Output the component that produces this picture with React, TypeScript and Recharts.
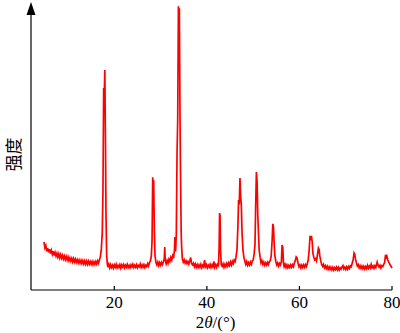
import { Label, Line, LineChart, XAxis, YAxis } from "recharts";

// 2θ (deg), intensity (a.u., 0–100 scale)
const lowAngle: [number, number][] = [
  [4.8, 16.9], [5.0, 14.8], [5.2, 15.6], [5.4, 13.6], [5.6, 14.7], [5.8, 13.2], [6.0, 14.3],
  [6.2, 12.8], [6.4, 13.9], [6.6, 12.5], [6.8, 13.6], [7.0, 12.1], [7.2, 13.2], [7.4, 11.9],
  [7.6, 12.9], [7.8, 11.6], [8.0, 12.7], [8.2, 11.3], [8.4, 12.4], [8.6, 11.2], [8.8, 12.2],
  [9.0, 10.9], [9.2, 11.9], [9.4, 10.7], [9.6, 11.8], [9.8, 10.5], [10.0, 11.6], [10.2, 10.3],
  [10.4, 11.3], [10.6, 10.2], [10.8, 11.1], [11.0, 9.9], [11.2, 11.0], [11.4, 9.8], [11.6, 10.8],
  [11.8, 9.7], [12.0, 10.6], [12.2, 9.5], [12.4, 10.5], [12.6, 9.4], [12.8, 10.4], [13.0, 9.3],
  [13.2, 10.3], [13.4, 9.2], [13.6, 10.2], [13.8, 9.1], [14.0, 10.1], [14.2, 9.0], [14.4, 10.1],
  [14.6, 9.1], [14.8, 10.0], [15.0, 9.0], [15.2, 10.0], [15.4, 8.9], [15.6, 9.9], [15.8, 9.0],
  [16.0, 10.0], [16.2, 9.1], [16.4, 10.2], [16.6, 9.4], [16.8, 10.6],
];

const peaks18to35: [number, number][] = [
  [17.0, 11.8], [17.2, 14.5], [17.4, 20], [17.55, 35], [17.7, 70.9], [17.8, 66], [17.95, 77.2],
  [18.1, 50], [18.2, 27], [18.35, 12], [18.5, 9.0],
  [18.6, 8.0], [18.8, 9.0], [19.0, 7.8], [19.2, 8.9], [19.4, 7.9], [19.6, 8.7], [19.8, 7.7],
  [20.0, 8.8], [20.2, 8.0], [20.4, 9.0], [20.6, 7.8], [20.8, 8.6], [21.0, 7.9], [21.2, 8.9],
  [21.4, 7.7], [21.6, 8.8], [21.8, 8.1], [22.0, 8.9], [22.2, 7.8], [22.4, 8.7], [22.6, 8.0],
  [22.8, 9.0], [23.0, 7.9], [23.2, 8.6], [23.4, 7.8], [23.6, 8.8], [23.8, 8.1], [24.0, 9.0],
  [24.2, 7.9], [24.4, 8.7], [24.6, 8.0], [24.8, 8.9], [25.0, 7.8], [25.2, 8.6], [25.4, 8.1],
  [25.6, 9.1], [25.8, 7.9], [26.0, 8.8], [26.2, 8.0], [26.4, 8.9], [26.6, 7.9], [26.8, 8.7],
  [27.0, 8.2], [27.2, 9.2], [27.4, 8.4], [27.6, 9.6], [27.8, 10.2],
  [28.0, 12.0], [28.15, 17], [28.3, 39.6], [28.4, 30], [28.5, 38.6], [28.65, 21], [28.8, 12],
  [29.0, 9.6], [29.2, 8.8], [29.4, 9.8], [29.6, 8.6], [29.8, 9.6], [30.0, 8.7], [30.2, 9.7],
  [30.4, 8.9], [30.6, 9.9], [30.8, 11], [30.9, 15.1], [31.0, 10.5], [31.2, 9.2], [31.4, 10.4],
  [31.6, 9.4], [31.8, 10.8], [32.0, 10.0], [32.2, 11.4], [32.4, 10.5], [32.6, 12.0], [32.8, 11.2],
  [33.0, 14.0], [33.1, 18.6], [33.25, 13.5], [33.4, 20], [33.55, 47.4], [33.7, 60],
  [33.85, 99.6], [33.95, 90], [34.05, 98.9], [34.2, 60], [34.3, 42.1], [34.45, 20],
  [34.55, 15.1], [34.7, 11.0], [34.9, 9.8],
];

const midAngle: [number, number][] = [
  [35.1, 10.6], [35.3, 9.4], [35.5, 10.2], [35.7, 9.3], [35.9, 10.0], [36.1, 9.1], [36.3, 10.2],
  [36.5, 11.4], [36.7, 9.3], [36.9, 8.8], [37.1, 9.4], [37.3, 8.2], [37.5, 9.1], [37.7, 8.0],
  [37.9, 8.9], [38.1, 7.9], [38.3, 8.8], [38.5, 8.0], [38.7, 9.0], [38.9, 7.8], [39.1, 8.7],
  [39.3, 8.1], [39.5, 10.5], [39.7, 8.2], [39.9, 8.9], [40.1, 7.8], [40.3, 8.7], [40.5, 8.0],
  [40.7, 9.0], [40.9, 7.9], [41.1, 8.8], [41.3, 8.1], [41.5, 10.0], [41.7, 8.0], [41.9, 8.9],
  [42.1, 8.0], [42.3, 9.0], [42.5, 8.6], [42.65, 15], [42.75, 27], [42.85, 26], [42.95, 14],
  [43.1, 9.0], [43.3, 8.3], [43.5, 9.2], [43.7, 8.0], [43.9, 9.0], [44.1, 8.2], [44.3, 9.3],
  [44.5, 8.4], [44.7, 9.5], [44.9, 8.6], [45.1, 9.8], [45.3, 8.8], [45.5, 10.0], [45.7, 9.2],
  [45.9, 10.5], [46.1, 10.0], [46.3, 11.5], [46.5, 14], [46.7, 22], [46.85, 31.6], [47.0, 30],
  [47.15, 39.3], [47.3, 33], [47.45, 29.8], [47.6, 20], [47.8, 14], [48.0, 11.5], [48.2, 10.2],
  [48.4, 9.0], [48.6, 10.0], [48.8, 8.7], [49.0, 9.6], [49.2, 8.8], [49.4, 9.8], [49.6, 9.0],
  [49.8, 10.2], [50.0, 10.5], [50.2, 12.5], [50.4, 16], [50.55, 30], [50.7, 41.4], [50.85, 38],
  [51.0, 26.3], [51.15, 20], [51.3, 14], [51.5, 11.5], [51.7, 9.5], [51.9, 10.3], [52.1, 9.0],
  [52.3, 9.8], [52.5, 8.7], [52.7, 9.5], [52.9, 8.8], [53.1, 9.7], [53.3, 8.9], [53.5, 9.9],
  [53.7, 10.3], [53.9, 12], [54.1, 17.5], [54.25, 23.2], [54.4, 22], [54.55, 15.8], [54.7, 12],
  [54.9, 10.0], [55.1, 8.8], [55.3, 9.5], [55.5, 8.4], [55.7, 9.3], [55.9, 8.8], [56.1, 10],
  [56.25, 15.8], [56.4, 15], [56.55, 9.5], [56.7, 8.2], [56.9, 9.0],
];

const highAngle: [number, number][] = [
  [57.1, 7.9], [57.3, 8.8], [57.5, 7.8], [57.7, 8.6], [57.9, 7.9], [58.1, 8.8], [58.3, 8.0],
  [58.5, 8.9], [58.7, 8.2], [58.9, 9.5], [59.1, 10.3], [59.3, 11.6], [59.5, 11.2], [59.7, 9.4],
  [59.9, 8.2], [60.1, 8.8], [60.3, 7.8], [60.5, 8.7], [60.7, 7.9], [60.9, 8.8], [61.1, 8.0],
  [61.3, 8.9], [61.5, 8.2], [61.7, 9.3], [61.9, 10.5], [62.1, 14], [62.3, 19], [62.45, 17.5],
  [62.6, 19], [62.75, 17], [62.9, 13], [63.1, 11.5], [63.3, 10.6], [63.5, 11.0], [63.7, 10.2],
  [63.9, 12.5], [64.1, 14.7], [64.25, 14.2], [64.4, 12], [64.6, 10.3], [64.8, 9.0], [65.0, 8.3],
  [65.2, 9.0], [65.4, 7.8], [65.6, 8.5], [65.8, 7.5], [66.0, 8.3], [66.2, 7.3], [66.4, 8.1],
  [66.6, 7.2], [66.8, 8.0], [67.0, 7.1], [67.2, 7.9], [67.4, 7.0], [67.6, 7.8], [67.8, 7.2],
  [68.0, 8.0], [68.2, 7.1], [68.4, 7.9], [68.6, 7.0], [68.8, 7.8], [69.0, 7.3], [69.2, 8.1],
  [69.4, 8.6], [69.6, 7.4], [69.8, 8.0], [70.0, 7.2], [70.2, 8.1], [70.4, 7.3], [70.6, 8.2],
  [70.8, 7.6], [71.0, 8.5], [71.2, 8.2], [71.4, 9.4], [71.6, 10.5], [71.8, 13], [71.95, 12.6],
  [72.1, 11], [72.3, 9.6], [72.5, 8.4], [72.7, 8.9], [72.9, 7.8], [73.1, 8.5], [73.3, 7.6],
  [73.5, 8.4], [73.7, 7.5], [73.9, 8.3], [74.1, 7.4], [74.3, 8.2], [74.5, 7.5], [74.7, 8.6],
  [74.9, 7.6], [75.1, 8.4], [75.3, 7.7], [75.5, 9.0], [75.7, 7.8], [75.9, 8.4], [76.1, 7.6],
  [76.3, 8.5], [76.5, 7.9], [76.8, 9.8], [77.0, 8.6], [77.2, 8.0], [77.4, 8.7], [77.6, 7.7],
  [77.8, 8.5], [78.0, 8.2], [78.2, 9.0], [78.4, 9.6], [78.6, 12.3], [78.75, 11.0], [78.9, 11.8],
  [79.1, 10.5], [79.3, 9.8], [79.5, 9.2], [79.7, 8.5], [79.9, 8.0], [80.0, 7.7],
];

const xTicks = [20, 40, 60, 80];
const xTitle = { lead: "2", theta: "θ", tail: "/(°)" };
const yTitle = "强度";

const data = [...lowAngle, ...peaks18to35, ...midAngle, ...highAngle].map(([x, y]) => ({ x, y }));

const SERIF = "Liberation Serif, DejaVu Serif, serif";

function XTick(props: any) {
  const { x, y, payload } = props;
  return (
    <g>
      <line x1={x} y1={y} x2={x} y2={y - 4} stroke="#000" strokeWidth={1.2} />
      <text x={x} y={y + 18} textAnchor="middle" fontFamily={SERIF} fontSize={17} fill="#000">
        {payload.value}
      </text>
    </g>
  );
}

export default function App() {
  return (
    <div style={{ position: "absolute", left: 0, top: 0, background: "#fff" }}>
      <LineChart width={400} height={333} data={data} margin={{ top: 5, right: 8, bottom: 0, left: 0 }}>
        <XAxis
          dataKey="x"
          type="number"
          domain={[2, 80]}
          ticks={xTicks}
          height={43}
          tickLine={false}
          tickSize={0}
          tickMargin={0}
          tick={<XTick />}
          axisLine={{ stroke: "#000", strokeWidth: 1.2 }}
        >
          <Label
            content={(p: any) => {
              const vb = p.viewBox;
              return (
                <text
                  x={vb.x + vb.width / 2 + 4}
                  y={vb.y + 38}
                  textAnchor="middle"
                  fontFamily={SERIF}
                  fontSize={17}
                  fill="#000"
                >
                  {xTitle.lead}
                  <tspan fontStyle="italic">{xTitle.theta}</tspan>
                  {xTitle.tail}
                </text>
              );
            }}
          />
        </XAxis>
        <YAxis
          type="number"
          domain={[0, 100]}
          width={31}
          tick={false}
          tickLine={false}
          axisLine={{ stroke: "#000", strokeWidth: 1.2 }}
        >
          <Label
            content={(p: any) => {
              const vb = p.viewBox;
              const ax = vb.x + vb.width;
              const cy = vb.y + vb.height / 2 + 7;
              return (
                <g>
                  <polygon points={`${ax},${vb.y - 3} ${ax - 4.5},${vb.y + 10} ${ax + 4.5},${vb.y + 10}`} fill="#000" />
                  <text
                    x={12}
                    y={cy}
                    transform={`rotate(-90, 12, ${cy})`}
                    textAnchor="middle"
                    dominantBaseline="central"
                    fontFamily="Noto Sans CJK SC"
                    fontSize={17}
                    fill="#000"
                  >
                    {yTitle}
                  </text>
                </g>
              );
            }}
          />
        </YAxis>
        <Line
          type="linear"
          dataKey="y"
          stroke="#ff0000"
          strokeWidth={1.7}
          dot={false}
          isAnimationActive={false}
        />
      </LineChart>
    </div>
  );
}
